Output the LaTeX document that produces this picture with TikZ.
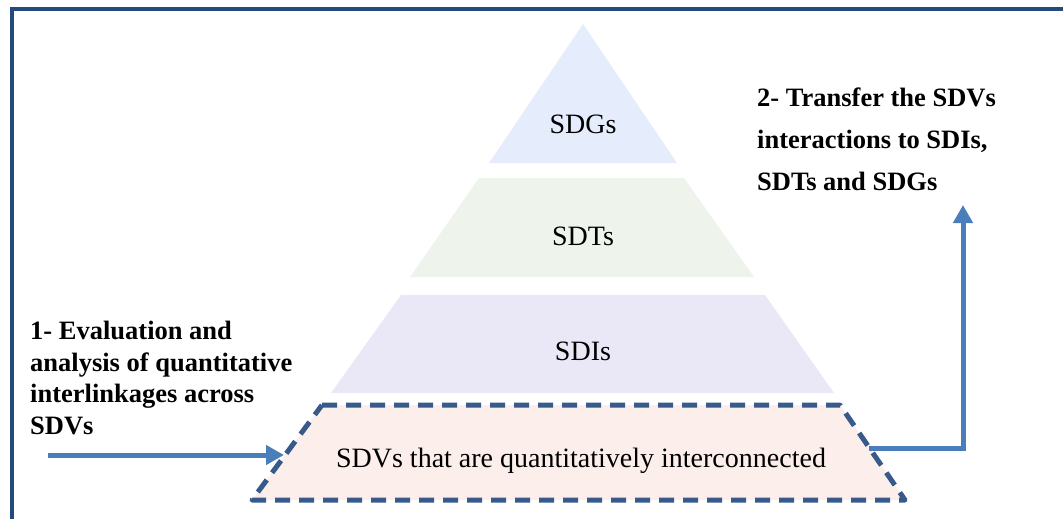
\documentclass[tikz,border=0pt]{standalone}
\usepackage{fontspec}
\setmainfont{Liberation Serif}
\usetikzlibrary{arrows.meta,positioning}
\definecolor{frameblue}{HTML}{24497D}
\definecolor{dashblue}{HTML}{375A8A}
\definecolor{arrowblue}{HTML}{4A7EBB}
\definecolor{sdgfill}{HTML}{E5ECFB}
\definecolor{sdtfill}{HTML}{EEF3EC}
\definecolor{sdifill}{HTML}{EAE7F6}
\definecolor{sdvfill}{HTML}{FCEEEA}

\begin{document}
\begin{tikzpicture}[
  x=1pt, y=-1pt,
  layer/.style={font=\fontsize{28}{32}\selectfont},
  note/.style={font=\fontsize{26.5}{31.5}\selectfont\bfseries, align=left,
               anchor=north west, inner sep=0pt},
  flow/.style={arrowblue, line width=5pt,
               -{Triangle[length=18pt,width=19pt]}},
  >=Latex
]

\path[use as bounding box] (0,0) rectangle (1063,519);

% Outer frame (only left and top edges show).
\draw[frameblue, line width=3.5pt] (12,560) -- (12,9) -- (1100,9);

% Pyramid layers.
\fill[sdgfill] (583,24) -- (677,163) -- (489,163) -- cycle;
\fill[sdtfill] (479,178) -- (684,178) -- (754,277) -- (410,277) -- cycle;
\fill[sdifill] (401,295) -- (765,295) -- (834,393) -- (331,393) -- cycle;

% Base layer, dashed outline.
\fill[sdvfill] (322,405) -- (840,405) -- (905,500) -- (252,500) -- cycle;
\draw[dashblue, line width=5pt, dash pattern=on 15pt off 9pt, line join=round]
  (322,405) -- (840,405) -- (905,500) -- (252,500) -- cycle;

\node[layer] (sdgs) at (583,124) {SDGs};
\node[layer] (sdts) at (583,236) {SDTs};
\node[layer] (sdis) at (583,351) {SDIs};
\node[layer] (sdvs) at (581,461) {SDVs that are quantitatively interconnected};

% Side notes.
\node[note] (eval) at (30,321)
  {1- Evaluation and\\analysis of quantitative\\interlinkages across\\SDVs};
\node[note, font=\fontsize{26.5}{42}\selectfont\bfseries] (transfer) at (757,88)
  {2- Transfer the SDVs\\interactions to SDIs,\\SDTs and SDGs};

% Connectors.
\coordinate (start) at (48,455);
\coordinate (sdvW)  at (284,455);
\coordinate (sdvE)  at (869,448);
\coordinate (up)    at (963,205);

\draw[flow] (start) -- (sdvW);
\draw[flow] (sdvE) -| (up);

\end{tikzpicture}
\end{document}
